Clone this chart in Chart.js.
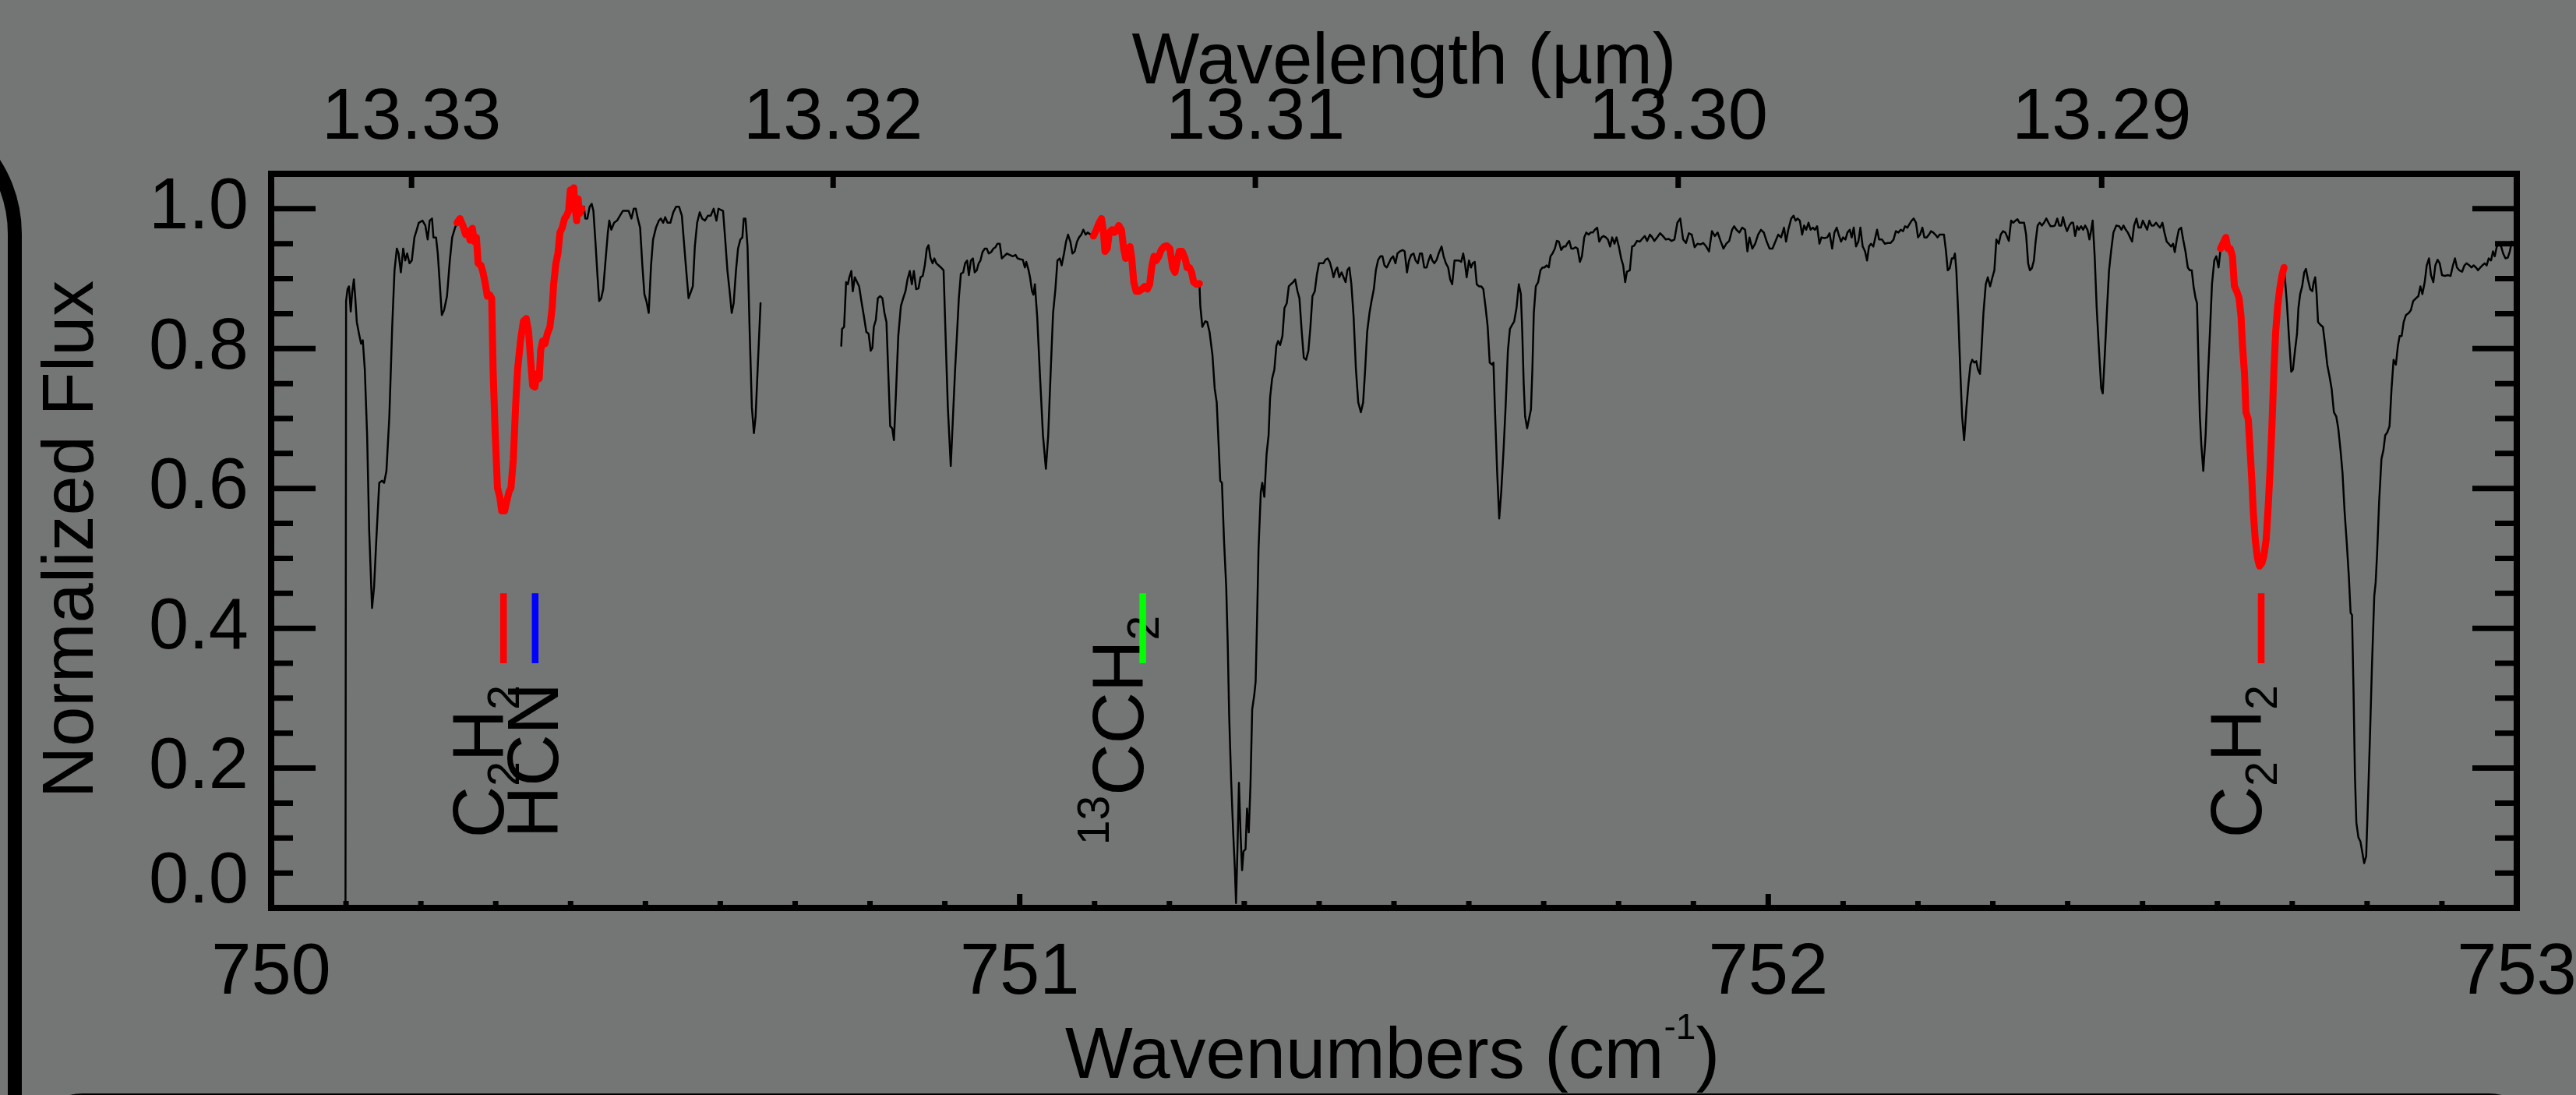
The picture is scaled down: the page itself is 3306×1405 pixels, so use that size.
<!DOCTYPE html>
<html>
<head>
<meta charset="utf-8">
<script src="https://cdn.jsdelivr.net/npm/chart.js@4.4.1/dist/chart.umd.min.js"></script>
<style>
html,body{margin:0;padding:0;background:#747675;overflow:hidden;}
#wrap{width:3306px;height:1405px;position:relative;}
canvas{display:block;}
</style>
</head>
<body>
<div id="wrap"><canvas id="c" width="3306" height="1405" style="width:3306px;height:1405px"></canvas></div>
<script>
// ---------------- data ----------------
const wnTicks = [750, 751, 752, 753];
const wavelengthTicks = [13.33, 13.32, 13.31, 13.30, 13.29];
const fluxTicks = [0.0, 0.2, 0.4, 0.6, 0.8, 1.0];

// spectrum, first block (wavenumber cm-1, normalized flux)
const spectrumA = [
[750.0993,0.000],[750.1001,0.868],[750.1020,0.885],[750.1040,0.889],[750.1063,0.853],[750.1082,0.880],[750.1105,0.899],[750.1124,0.872],[750.1144,0.838],[750.1174,0.821],[750.1201,0.807],[750.1224,0.812],[750.1251,0.770],[750.1282,0.676],[750.1309,0.541],[750.1348,0.429],[750.1375,0.459],[750.1405,0.527],[750.1444,0.608],[750.1482,0.611],[750.1509,0.608],[750.1540,0.625],[750.1579,0.703],[750.1617,0.831],[750.1648,0.912],[750.1679,0.943],[750.1702,0.936],[750.1733,0.909],[750.1764,0.943],[750.1791,0.926],[750.1817,0.936],[750.1848,0.922],[750.1879,0.926],[750.1914,0.959],[750.1945,0.970],[750.1972,0.980],[750.2022,0.983],[750.2060,0.976],[750.2091,0.956],[750.2118,0.983],[750.2149,0.986],[750.2168,0.959],[750.2203,0.959],[750.2226,0.936],[750.2253,0.892],[750.2280,0.848],[750.2310,0.855],[750.2349,0.875],[750.2387,0.926],[750.2418,0.959],[750.2457,0.973],
[750.2484,0.980],[750.2522,0.986],[750.2561,0.976],[750.2599,0.963],[750.2630,0.968],[750.2657,0.955],[750.2688,0.972],[750.2715,0.953],[750.2742,0.959],[750.2765,0.922],[750.2803,0.919],[750.2830,0.909],[750.2857,0.895],[750.2888,0.875],[750.2919,0.877],[750.2946,0.872],[750.2965,0.770],[750.2992,0.682],[750.3023,0.601],[750.3054,0.588],[750.3080,0.568],[750.3119,0.568],[750.3146,0.581],[750.3177,0.595],[750.3204,0.601],[750.3235,0.642],[750.3265,0.716],[750.3292,0.770],[750.3331,0.811],[750.3369,0.839],[750.3408,0.843],[750.3439,0.824],[750.3466,0.784],[750.3493,0.747],[750.3523,0.745],[750.3550,0.764],[750.3581,0.757],[750.3600,0.797],[750.3627,0.811],[750.3658,0.807],[750.3689,0.821],[750.3724,0.831],[750.3754,0.858],[750.3774,0.892],[750.3804,0.922],[750.3831,0.936],[750.3858,0.966],[750.3889,0.973],[750.3920,0.986],[750.3947,0.990],[750.3974,0.997],[750.3997,1.027],[750.4024,1.017],[750.4043,1.030],[750.4062,1.000],[750.4082,0.983],[750.4101,1.014],[750.4120,0.993],[750.4151,1.000],
[750.4178,1.003],[750.4197,0.986],[750.4224,0.986],[750.4255,1.003],[750.4282,1.007],[750.4305,0.997],[750.4332,0.953],[750.4359,0.905],[750.4382,0.868],[750.4409,0.872],[750.4436,0.885],[750.4467,0.926],[750.4498,0.966],[750.4517,0.983],[750.4544,0.970],[750.4582,0.980],[750.4621,0.983],[750.4659,0.990],[750.4698,0.997],[750.4736,0.997],[750.4775,0.997],[750.4813,0.986],[750.4844,1.000],[750.4871,1.000],[750.4898,0.986],[750.4929,0.973],[750.4959,0.919],[750.4986,0.878],[750.5013,0.868],[750.5044,0.851],[750.5075,0.919],[750.5102,0.956],[750.5141,0.973],[750.5179,0.983],[750.5206,0.986],[750.5237,0.980],[750.5264,0.988],[750.5295,0.980],[750.5333,0.980],[750.5372,0.995],[750.5410,1.003],[750.5449,1.003],[750.5487,0.990],[750.5514,0.953],[750.5545,0.912],[750.5576,0.872],[750.5603,0.880],[750.5633,0.889],[750.5660,0.946],[750.5691,0.980],[750.5726,0.995],[750.5757,0.986],[750.5795,0.983],[750.5834,0.990],[750.5872,0.990],[750.5911,1.000],[750.5949,0.983],[750.5976,1.000],
[750.6037,0.997],[750.6068,0.953],[750.6095,0.912],[750.6122,0.885],[750.6153,0.851],[750.6179,0.865],[750.6210,0.912],[750.6237,0.943],[750.6268,0.956],[750.6295,0.959],[750.6314,0.986],[750.6337,0.986],[750.6364,0.946],[750.6391,0.831],[750.6422,0.716],[750.6449,0.679],[750.6472,0.703],[750.6499,0.770],[750.6538,0.865]
];

// spectrum, second block
const spectrumB = [
[750.7616,0.804],[750.7627,0.828],[750.7654,0.831],[750.7681,0.895],[750.7704,0.892],[750.7724,0.902],[750.7751,0.911],[750.7770,0.882],[750.7797,0.902],[750.7828,0.895],[750.7855,0.889],[750.7885,0.868],[750.7916,0.848],[750.7951,0.824],[750.7982,0.821],[750.8009,0.797],[750.8032,0.801],[750.8051,0.831],[750.8078,0.841],[750.8105,0.872],[750.8136,0.875],[750.8166,0.872],[750.8193,0.851],[750.8220,0.838],[750.8243,0.770],[750.8270,0.689],[750.8297,0.686],[750.8320,0.669],[750.8347,0.736],[750.8378,0.818],[750.8413,0.861],[750.8444,0.872],[750.8474,0.882],[750.8501,0.899],[750.8532,0.911],[750.8559,0.892],[750.8586,0.911],[750.8617,0.885],[750.8648,0.886],[750.8675,0.902],[750.8705,0.904],[750.8732,0.919],[750.8759,0.943],[750.8782,0.948],[750.8809,0.929],[750.8836,0.922],[750.8859,0.929],[750.8886,0.922],[750.8917,0.919],[750.8948,0.916],[750.8983,0.912],[750.9010,0.818],[750.9040,0.716],[750.9079,0.632],[750.9106,0.696],[750.9137,0.770],[750.9164,0.824],[750.9187,0.872],[750.9214,0.907],[750.9245,0.909],[750.9271,0.922],[750.9298,0.926],[750.9321,0.905],[750.9348,0.926],[750.9375,0.929],[750.9399,0.909],[750.9426,0.912],[750.9452,0.922],[750.9476,0.926],[750.9503,0.938],[750.9533,0.943],[750.9560,0.943],[750.9587,0.936],[750.9618,0.938],[750.9649,0.943],[750.9676,0.945],[750.9703,0.950],[750.9734,0.950],[750.9761,0.929],[750.9791,0.932],[750.9830,0.936],[750.9868,0.934],[750.9907,0.932],[750.9945,0.934],[750.9972,0.929],[751.0003,0.928],[751.0042,0.927],[751.0069,0.916],[751.0088,0.924],[751.0119,0.912],[751.0138,0.902],[751.0165,0.882],[751.0184,0.877],[751.0203,0.892],[751.0234,0.845],[751.0273,0.757],[751.0311,0.676],[751.0350,0.628],[751.0381,0.676],[751.0415,0.770],[751.0446,0.851],[751.0477,0.885],[751.0504,0.926],[751.0535,0.929],[751.0561,0.919],[751.0592,0.936],[751.0619,0.953],[751.0646,0.963],[751.0677,0.953],[751.0704,0.936],[751.0735,0.939],[751.0766,0.953],[751.0793,0.959],[751.0823,0.963],[751.0850,0.970],[751.0881,0.963],[751.0908,0.966],[751.0947,0.963],
[751.0985,0.961],[751.1024,0.970],[751.1062,0.980],[751.1093,0.986],[751.1120,0.966],[751.1139,0.939],[751.1170,0.943],[751.1197,0.966],[751.1235,0.970],[751.1266,0.966],[751.1293,0.970],[751.1324,0.976],[751.1359,0.970],[751.1389,0.943],[751.1416,0.929],[751.1447,0.939],[751.1474,0.946],[751.1497,0.929],[751.1524,0.895],[751.1555,0.882],[751.1593,0.882],[751.1632,0.885],[751.1670,0.889],[751.1705,0.885],[751.1736,0.892],[751.1767,0.919],[751.1794,0.932],[751.1824,0.926],[751.1859,0.932],[751.1890,0.941],[751.1929,0.946],[751.1967,0.947],[751.2006,0.943],[751.2044,0.916],[751.2074,0.909],[751.2105,0.926],[751.2132,0.939],[751.2170,0.939],[751.2209,0.929],[751.2236,0.916],[751.2267,0.916],[751.2297,0.909],[751.2324,0.895],[751.2363,0.892],[751.2401,0.893],
[751.2413,0.861],[751.2440,0.831],[751.2478,0.839],[751.2505,0.838],[751.2536,0.824],[751.2575,0.791],[751.2605,0.743],[751.2632,0.723],[751.2652,0.676],[751.2679,0.611],[751.2702,0.608],[751.2729,0.527],[751.2759,0.459],[751.2779,0.378],[751.2798,0.277],[751.2825,0.182],[751.2852,0.108],[751.2875,0.054],[751.2890,0.007],[751.2910,0.088],[751.2929,0.179],[751.2952,0.101],[751.2971,0.054],[751.2990,0.081],[751.3017,0.084],[751.3037,0.142],[751.3060,0.108],[751.3083,0.176],[751.3106,0.284],[751.3133,0.304],[751.3152,0.324],[751.3171,0.412],[751.3191,0.514],[751.3221,0.595],[751.3241,0.608],[751.3268,0.588],[751.3298,0.649],[751.3325,0.676],[751.3345,0.730],[751.3372,0.757],[751.3402,0.770],[751.3429,0.804],[751.3453,0.811],[751.3479,0.805],[751.3510,0.818],[751.3537,0.858],[751.3568,0.865],[751.3595,0.889],[751.3622,0.892],[751.3653,0.895],[751.3680,0.899],[751.3711,0.882],[751.3737,0.872],[751.3768,0.824],[751.3795,0.787],[751.3826,0.784],[751.3857,0.797],[751.3884,0.831],[751.3911,0.875],[751.3942,0.882],[751.3969,0.905],[751.3999,0.922],[751.4026,0.922],[751.4057,0.922],[751.4084,0.927],[751.4115,0.929],[751.4142,0.924],[751.4173,0.912],[751.4192,0.902],[751.4219,0.912],[751.4242,0.916],[751.4269,0.902],[751.4300,0.909],[751.4327,0.902],[751.4354,0.895],[751.4377,0.912],[751.4404,0.916],[751.4431,0.892],[751.4461,0.845],[751.4492,0.770],[751.4523,0.723],[751.4558,0.709],[751.4588,0.723],[751.4615,0.770],[751.4642,0.824],[751.4673,0.851],[751.4700,0.868],[751.4731,0.885],[751.4758,0.912],[751.4789,0.927],[751.4819,0.932],[751.4846,0.932],[751.4873,0.919],[751.4904,0.916],[751.4931,0.922],[751.4962,0.929],[751.4989,0.932],[751.5020,0.922],[751.5047,0.936],[751.5077,0.939],[751.5116,0.941],[751.5143,0.939],[751.5174,0.909],[751.5201,0.926],[751.5231,0.934],[751.5262,0.936],[751.5289,0.926],[751.5320,0.922],[751.5347,0.936],[751.5374,0.936],[751.5405,0.916],[751.5436,0.916],[751.5462,0.926],[751.5489,0.934],[751.5513,0.926],[751.5539,0.922],[751.5570,0.927],[751.5597,0.936],[751.5636,0.946],[751.5663,0.932],[751.5694,0.922],[751.5724,0.916],[751.5751,0.899],[751.5778,0.892],[751.5809,0.926],[751.5840,0.926],[751.5867,0.926],[751.5898,0.924],[751.5925,0.936],[751.5948,0.922],[751.5971,0.902],[751.6002,0.926],[751.6029,0.916],[751.6052,0.922],[751.6079,0.924],[751.6106,0.892],[751.6136,0.889],[751.6167,0.889],[751.6194,0.885],[751.6225,0.858],[751.6252,0.831],[751.6279,0.780],[751.6310,0.777],[751.6329,0.780],[751.6348,0.716],[751.6379,0.622],[751.6406,0.557],[751.6433,0.595],[751.6464,0.655],[751.6491,0.716],[751.6522,0.797],[751.6549,0.828],[751.6579,0.834],[751.6606,0.839],[751.6637,0.858],[751.6668,0.892],[751.6695,0.878],[751.6714,0.824],[751.6733,0.750],[751.6752,0.703],[751.6779,0.686],[751.6803,0.699],[751.6830,0.713],[751.6849,0.770],[751.6868,0.851],[751.6895,0.889],[751.6926,0.895],[751.6957,0.912],[751.6984,0.916],[751.7010,0.916],[751.7041,0.919],[751.7068,0.916],[751.7091,0.932],[751.7118,0.936],[751.7149,0.943],[751.7176,0.954],[751.7203,0.953],[751.7234,0.941],[751.7265,0.946],[751.7292,0.946],[751.7319,0.951],[751.7342,0.954],[751.7369,0.943],[751.7396,0.943],[751.7426,0.945],[751.7453,0.943],[751.7484,0.924],[751.7511,0.932],[751.7542,0.959],[751.7569,0.966],[751.7600,0.963],[751.7627,0.966],[751.7657,0.966],[751.7684,0.970],[751.7715,0.973],[751.7742,0.953],[751.7773,0.959],[751.7800,0.961],[751.7831,0.959],[751.7858,0.956],[751.7888,0.946],[751.7915,0.959],[751.7946,0.950],[751.7973,0.959],[751.8004,0.946],[751.8035,0.929],[751.8062,0.919],[751.8089,0.895],[751.8112,0.910],
[751.8151,0.912],[751.8181,0.946],[751.8208,0.947],[751.8247,0.954],[751.8285,0.953],[751.8324,0.958],[751.8351,0.961],[751.8382,0.954],[751.8420,0.963],[751.8451,0.959],[751.8478,0.954],[751.8516,0.959],[751.8555,0.965],[751.8593,0.961],[751.8632,0.956],[751.8670,0.957],[751.8709,0.954],[751.8747,0.956],[751.8786,0.980],[751.8824,0.986],[751.8863,0.956],[751.8901,0.951],[751.8940,0.965],[751.8978,0.963],[751.9017,0.945],[751.9055,0.950],[751.9094,0.949],[751.9132,0.951],[751.9171,0.946],[751.9209,0.939],[751.9248,0.968],[751.9286,0.961],[751.9325,0.966],[751.9363,0.954],[751.9402,0.943],[751.9440,0.950],[751.9479,0.954],[751.9517,0.970],[751.9544,0.975],[751.9575,0.970],[751.9614,0.966],[751.9652,0.973],[751.9691,0.970],[751.9722,0.939],[751.9749,0.959],[751.9787,0.943],[751.9826,0.950],[751.9864,0.963],[751.9903,0.970],[751.9941,0.966],[751.9980,0.953],[752.0018,0.943],[752.0057,0.943],[752.0095,0.953],[752.0134,0.963],[752.0172,0.959],[752.0211,0.973],[752.0238,0.953],[752.0268,0.970],[752.0307,0.986],[752.0338,0.990],[752.0365,0.983],[752.0392,0.986],[752.0422,0.983],[752.0453,0.963],[752.0480,0.976],[752.0507,0.970],[752.0538,0.980],[752.0565,0.970],[752.0596,0.973],[752.0623,0.970],[752.0653,0.975],[752.0684,0.950],[752.0711,0.959],[752.0750,0.958],[752.0788,0.959],[752.0819,0.965],[752.0854,0.943],[752.0884,0.966],[752.0915,0.973],[752.0942,0.963],[752.0973,0.953],[752.1000,0.959],[752.1031,0.956],[752.1058,0.966],[752.1089,0.970],[752.1115,0.959],[752.1142,0.973],[752.1173,0.946],[752.1204,0.953],[752.1231,0.973],[752.1262,0.946],[752.1293,0.939],[752.1320,0.926],[752.1346,0.946],[752.1373,0.950],[752.1404,0.946],[752.1431,0.959],[752.1454,0.970],[752.1481,0.956],[752.1520,0.956],[752.1558,0.950],[752.1597,0.951],[752.1635,0.951],[752.1674,0.956],[752.1705,0.968],[752.1739,0.966],[752.1770,0.970],[752.1801,0.968],[752.1828,0.975],[752.1859,0.973],[752.1886,0.978],[752.1916,0.983],[752.1943,0.986],[752.1974,0.980],[752.2001,0.959],[752.2028,0.963],[752.2059,0.973],[752.2086,0.959],[752.2117,0.959],[752.2147,0.963],[752.2174,0.968],[752.2205,0.966],[752.2232,0.963],[752.2263,0.959],[752.2290,0.963],[752.2321,0.963],[752.2348,0.963],[752.2375,0.939],[752.2398,0.912],[752.2425,0.915],[752.2452,0.929],[752.2475,0.929],[752.2494,0.936],[752.2513,0.912],[752.2540,0.845],[752.2567,0.764],[752.2590,0.703],[752.2617,0.669],[752.2648,0.716],[752.2675,0.750],[752.2702,0.777],[752.2725,0.784],[752.2752,0.780],[752.2779,0.782],[752.2802,0.770],[752.2829,0.764],[752.2848,0.797],[752.2875,0.851],[752.2906,0.892],[752.2933,0.902],[752.2964,0.889],[752.2995,0.902],[752.3021,0.912],[752.3048,0.956],[752.3079,0.950],[752.3106,0.963],[752.3137,0.968],[752.3168,0.966],[752.3195,0.959],[752.3214,0.954],[752.3245,0.983],[752.3272,0.980],[752.3303,0.983],[752.3330,0.985],[752.3357,0.980],[752.3387,0.980],[752.3418,0.980],[752.3445,0.963],[752.3472,0.922],[752.3495,0.912],[752.3522,0.915],[752.3549,0.926],[752.3572,0.953],[752.3599,0.976],[752.3626,0.980],[752.3657,0.976],[752.3684,0.980],[752.3715,0.986],[752.3745,0.980],[752.3772,0.975],[752.3803,0.975],[752.3830,0.976],[752.3861,0.986],[752.3888,0.976],[752.3915,0.976],[752.3938,0.988],[752.3965,0.976],[752.3992,0.968],[752.4023,0.976],[752.4050,0.980],[752.4073,0.980],[752.4100,0.961],[752.4127,0.975],
[752.4149,0.970],[752.4180,0.975],[752.4207,0.970],[752.4234,0.976],[752.4265,0.970],[752.4291,0.956],[752.4315,0.970],[752.4334,0.983],[752.4361,0.932],[752.4388,0.858],[752.4419,0.797],[752.4449,0.743],[752.4469,0.736],[752.4496,0.791],[752.4523,0.851],[752.4553,0.912],[752.4580,0.939],[752.4611,0.966],[752.4650,0.976],[752.4688,0.975],[752.4719,0.970],[752.4746,0.976],[752.4777,0.970],[752.4804,0.966],[752.4834,0.959],[752.4861,0.953],[752.4888,0.976],[752.4919,0.986],[752.4946,0.973],[752.4977,0.973],[752.5004,0.983],[752.5035,0.976],[752.5062,0.970],[752.5092,0.983],[752.5119,0.976],[752.5150,0.976],[752.5181,0.980],[752.5208,0.976],[752.5235,0.973],[752.5266,0.980],[752.5293,0.966],[752.5323,0.953],[752.5350,0.950],[752.5381,0.946],[752.5408,0.950],[752.5431,0.938],[752.5458,0.956],[752.5485,0.970],[752.5516,0.973],[752.5543,0.956],[752.5574,0.939],[752.5605,0.916],[752.5631,0.912],[752.5658,0.912],[752.5682,0.889],[752.5709,0.872],[752.5728,0.865],[752.5747,0.784],[752.5766,0.703],[752.5786,0.662],[752.5812,0.625],[752.5843,0.676],[752.5870,0.750],[752.5901,0.824],[752.5928,0.892],[752.5959,0.926],[752.5986,0.932],[752.6016,0.916],
[752.6043,0.943],[752.6086,0.953],[752.6113,0.959],[752.6140,0.943],[752.6171,0.943],[752.6201,0.932],[752.6228,0.889],[752.6259,0.882],[752.6290,0.872],[752.6317,0.845],[752.6336,0.804],[752.6363,0.764],[752.6382,0.709],[752.6413,0.699],[752.6433,0.662],[752.6459,0.615],[752.6479,0.568],[752.6506,0.527],[752.6536,0.500],[752.6563,0.489],[752.6594,0.493],[752.6621,0.503],[752.6652,0.527],[752.6679,0.574],[752.6702,0.622],[752.6729,0.689],[752.6756,0.770],[752.6779,0.824],[752.6806,0.861],[752.6833,0.885],[752.6864,0.905],[752.6891,0.916],
[752.6929,0.865],[752.6960,0.811],[752.6987,0.767],[752.7010,0.770],[752.7037,0.797],[752.7064,0.821],[752.7083,0.858],[752.7106,0.878],[752.7133,0.889],[752.7160,0.909],[752.7183,0.914],[752.7210,0.899],[752.7241,0.885],[752.7268,0.882],[752.7287,0.895],[752.7307,0.902],[752.7326,0.878],[752.7345,0.838],[752.7376,0.834],[752.7410,0.831],[752.7441,0.804],[752.7468,0.777],[752.7499,0.760],[752.7526,0.743],[752.7557,0.709],[752.7588,0.703],[752.7615,0.686],[752.7645,0.655],[752.7672,0.622],[752.7699,0.568],[752.7730,0.520],[752.7757,0.473],[752.7780,0.422],[752.7799,0.419],[752.7819,0.311],[752.7838,0.189],[752.7857,0.122],[752.7884,0.101],[752.7911,0.095],[752.7934,0.081],[752.7961,0.064],[752.7988,0.074],[752.8011,0.149],[752.8038,0.243],[752.8065,0.345],[752.8096,0.446],[752.8115,0.466],[752.8134,0.507],[752.8161,0.581],[752.8192,0.642],[752.8219,0.655],[752.8242,0.676],[752.8269,0.680],[752.8300,0.689],[752.8327,0.743],[752.8354,0.784],[752.8385,0.777],[752.8412,0.804],[752.8435,0.818],[752.8462,0.818],[752.8489,0.838],[752.8520,0.848],[752.8558,0.851],[752.8585,0.855],[752.8616,0.868],[752.8654,0.872],[752.8685,0.875],[752.8712,0.889],[752.8739,0.878],[752.8770,0.895],[752.8797,0.919],[752.8827,0.929],[752.8854,0.905],[752.8885,0.895],[752.8912,0.919],[752.8943,0.927],[752.8970,0.922],[752.9001,0.905],[752.9039,0.904],[752.9078,0.905],[752.9116,0.904],[752.9147,0.919],[752.9174,0.929],[752.9201,0.916],[752.9232,0.912],[752.9270,0.910],[752.9301,0.919],[752.9328,0.922],[752.9367,0.919],[752.9394,0.916],[752.9424,0.919],[752.9455,0.916],[752.9482,0.912],[752.9513,0.916],[752.9540,0.919],[752.9571,0.922],[752.9598,0.919],[752.9625,0.929],[752.9656,0.926],[752.9682,0.939],[752.9706,0.932],[752.9733,0.946],[752.9764,0.949],[752.9791,0.946],[752.9818,0.936],[752.9849,0.929],[752.9880,0.930],[752.9907,0.939],[752.9934,0.953],[752.9965,0.949],[752.9996,0.953]
];

// wavenumber ranges highlighted in red
const redRanges = [[750.2484, 750.4151], [751.0985, 751.2401], [752.6043, 752.6891]];

// line identification markers
const markerWn = [750.3104, 750.3527, 751.1644, 752.6586];
const markerColors = ['#ff0000', '#0000ff', '#00ff00', '#ff0000'];
const markerRange = [0.35, 0.45];

// molecule labels: baseline wavenumber, starting flux, rich text parts (0 normal, -1 subscript, 1 superscript)
const labelWn = [750.3104, 750.3830, 751.1650, 752.6590];
const labelFlux = [0.10, 0.10, 0.09, 0.10];
const labelParts = [
  [['C', 0], ['2', -1], ['H', 0], ['2', -1]],
  [['HCN', 0]],
  [['13', 1], ['CCH', 0], ['2', -1]],
  [['C', 0], ['2', -1], ['H', 0], ['2', -1]]
];

// ---------------- drawing ----------------
const FONT = '"Liberation Sans", Arial, Helvetica, sans-serif';
const BG = '#747675';
const toPts = arr => arr.map(p => ({ x: p[0], y: p[1] }));
const allSpectrum = spectrumA.concat(spectrumB);
const redSets = redRanges.map(r => allSpectrum.filter(p => p[0] >= r[0] - 1e-6 && p[0] <= r[1] + 1e-6));

const lineBase = { pointRadius: 0, pointHoverRadius: 0, fill: false, tension: 0, borderJoinStyle: 'round', borderCapStyle: 'round', xAxisID: 'x', yAxisID: 'y' };
const datasets = [];
// higher "order" is drawn first (underneath)
datasets.push(Object.assign({}, lineBase, { data: toPts(spectrumA), borderColor: '#000000', borderWidth: 2.5, order: 3 }));
datasets.push(Object.assign({}, lineBase, { data: toPts(spectrumB), borderColor: '#000000', borderWidth: 2.5, order: 3 }));
redSets.forEach(s => datasets.push(Object.assign({}, lineBase, { data: toPts(s), borderColor: '#ff0000', borderWidth: 9, order: 2 })));
markerWn.forEach((w, i) => datasets.push(Object.assign({}, lineBase, {
  data: [{ x: w, y: markerRange[0] }, { x: w, y: markerRange[1] }],
  borderColor: markerColors[i], borderWidth: 8.5, borderCapStyle: 'butt', order: 1
})));

function drawRich(ctx, parts, x, y, size, opts) {
  const subSize = opts.subSize, subShift = opts.subShift, supShift = opts.supShift;
  ctx.save();
  ctx.translate(x, y);
  if (opts.rotate) ctx.rotate(-Math.PI / 2);
  ctx.textBaseline = 'alphabetic';
  ctx.textAlign = 'left';
  ctx.fillStyle = '#000';
  let total = 0;
  parts.forEach(([t, m]) => { ctx.font = (m === 0 ? size : subSize) + 'px ' + FONT; total += ctx.measureText(t).width; });
  let cx = opts.center ? -total / 2 : 0;
  parts.forEach(([t, m]) => {
    ctx.font = (m === 0 ? size : subSize) + 'px ' + FONT;
    const dy = m === -1 ? subShift : (m === 1 ? -supShift : 0);
    ctx.fillText(t, cx, dy);
    cx += ctx.measureText(t).width;
  });
  ctx.restore();
}

const decorPlugin = {
  id: 'decor',
  beforeDraw(chart) {
    const ctx = chart.ctx;
    ctx.save();
    ctx.fillStyle = BG;
    ctx.fillRect(0, 0, chart.width, chart.height);
    // slide frame edges
    ctx.strokeStyle = '#000';
    ctx.lineWidth = 18;
    ctx.beginPath();
    ctx.arc(-147, 300, 166, -Math.PI / 2, 0);
    ctx.lineTo(19, 1460);
    ctx.stroke();
    ctx.lineWidth = 8;
    ctx.beginPath();
    ctx.roundRect(46, 1407, 3208, 300, 60);
    ctx.stroke();
    ctx.restore();
  },
  beforeDatasetsDraw(chart) {
    const { ctx, chartArea: a, scales } = chart;
    const xs = scales.x, ys = scales.y;
    ctx.save();
    ctx.strokeStyle = '#000';
    ctx.lineWidth = 7;
    ctx.lineCap = 'butt';
    ctx.beginPath();
    for (let i = 0; i <= 21; i++) {
      const py = ys.getPixelForValue(i * 0.05);
      const major = i % 4 === 0;
      ctx.moveTo(a.left, py); ctx.lineTo(a.left + (major ? 57 : 28), py);
      ctx.moveTo(a.right, py); ctx.lineTo(a.right - (major ? 57 : 28), py);
    }
    for (let i = 0; i <= 30; i++) {
      const px = xs.getPixelForValue(750 + i * 0.1);
      ctx.moveTo(px, a.bottom); ctx.lineTo(px, a.bottom - (i % 10 === 0 ? 18 : 9));
    }
    wavelengthTicks.forEach(l => {
      const px = xs.getPixelForValue(1e4 / l);
      ctx.moveTo(px, a.top); ctx.lineTo(px, a.top + 18);
    });
    ctx.stroke();
    ctx.restore();
    // molecule labels (under the markers)
    labelParts.forEach((parts, i) => {
      drawRich(ctx, parts, xs.getPixelForValue(labelWn[i]), ys.getPixelForValue(labelFlux[i]), 92,
        { rotate: true, subSize: 57, subShift: 20, supShift: 44 });
    });
  },
  afterDraw(chart) {
    const ctx = chart.ctx;
    const a = chart.chartArea;
    drawRich(ctx, [['Wavelength (\u00b5m)', 0]], 1802, 107, 92, { center: true, subSize: 57, subShift: 20, supShift: 44 });
    drawRich(ctx, [['Wavenumbers (cm', 0], ['-1', 1], [')', 0]], 1787, 1383, 92, { center: true, subSize: 46, subShift: 20, supShift: 50 });
    drawRich(ctx, [['Normalized Flux', 0]], 119, (a.top + a.bottom) / 2 - 2, 92, { center: true, rotate: true, subSize: 57, subShift: 20, supShift: 44 });
  }
};

Chart.defaults.font.family = FONT;
Chart.defaults.color = '#000';

const chart = new Chart(document.getElementById('c').getContext('2d'), {
  type: 'line',
  data: { datasets },
  options: {
    responsive: false,
    animation: false,
    devicePixelRatio: 1,
    events: [],
    layout: { padding: 0, autoPadding: false },
    plugins: { legend: { display: false }, tooltip: { enabled: false }, title: { display: false } },
    scales: {
      x: {
        type: 'linear', position: 'bottom', min: 750, max: 753,
        afterBuildTicks: s => { s.ticks = wnTicks.map(v => ({ value: v })); },
        ticks: { autoSkip: false, maxRotation: 0, minRotation: 0, padding: 0, color: '#000',
          font: { family: FONT, size: 92, lineHeight: 170 / 92 }, callback: v => String(v) },
        grid: { display: false, drawTicks: false, lineWidth: 8 },
        border: { display: true, color: '#000', width: 8 },
        afterFit: s => { s.height = 240; s.paddingLeft = 0; s.paddingRight = 0; }
      },
      xTop: {
        type: 'linear', position: 'top', min: 750, max: 753,
        afterBuildTicks: s => { s.ticks = wavelengthTicks.map(l => ({ value: 1e4 / l })); },
        ticks: { autoSkip: false, maxRotation: 0, minRotation: 0, padding: 0, color: '#000',
          font: { family: FONT, size: 92, lineHeight: 141 / 92 }, callback: (v, i) => wavelengthTicks[i].toFixed(2) },
        grid: { display: false, drawTicks: false, lineWidth: 8 },
        border: { display: true, color: '#000', width: 8 },
        afterFit: s => { s.height = 223; s.paddingLeft = 0; s.paddingRight = 0; }
      },
      y: {
        type: 'linear', position: 'left', min: 0, max: 1.05,
        afterBuildTicks: s => { s.ticks = fluxTicks.map(v => ({ value: v })); },
        ticks: { autoSkip: false, padding: 29, color: '#000',
          font: { family: FONT, size: 92, lineHeight: 0.7 },
          callback: v => (v === 0 ? ['0.0', ''] : v.toFixed(1)) },
        grid: { display: false, drawTicks: false, lineWidth: 8 },
        border: { display: true, color: '#000', width: 8 },
        afterFit: s => { s.width = 348; s.paddingTop = 0; s.paddingBottom = 0; }
      },
      yRight: {
        type: 'linear', position: 'right', min: 0, max: 1.05,
        ticks: { display: false },
        grid: { display: false, drawTicks: false, lineWidth: 8 },
        border: { display: true, color: '#000', width: 8 },
        afterFit: s => { s.width = 76; s.paddingTop = 0; s.paddingBottom = 0; }
      }
    }
  },
  plugins: [decorPlugin]
});
</script>
</body>
</html>
